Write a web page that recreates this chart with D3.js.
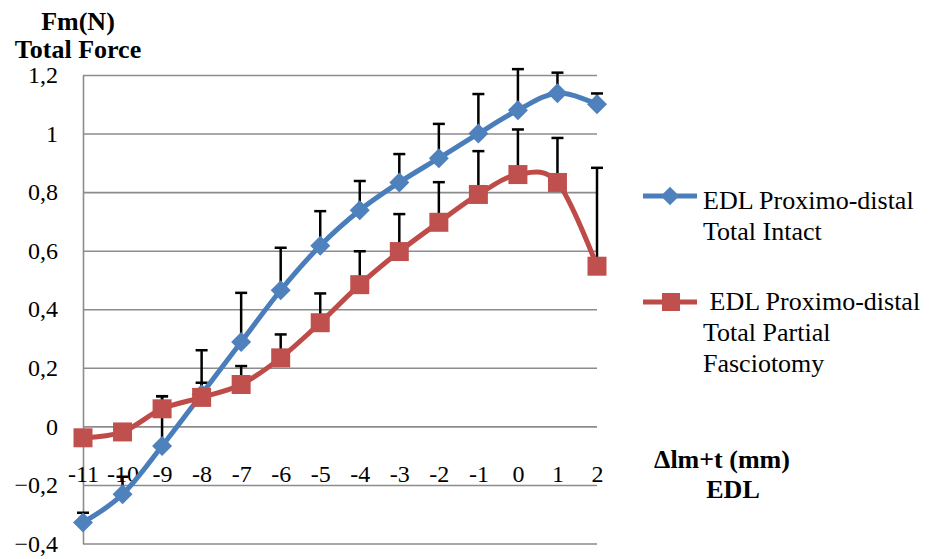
<!DOCTYPE html>
<html><head><meta charset="utf-8">
<script src="https://cdn.jsdelivr.net/npm/d3@7/dist/d3.min.js"></script>
<style>
html,body{margin:0;padding:0;background:#fff;}
svg{display:block;}
svg text{font-family:"Liberation Serif","Times New Roman",Times,"DejaVu Serif",serif !important;fill:#000;}
</style></head>
<body>
<svg id="chart" width="930" height="559"></svg>
<script>
const categories = [-11,-10,-9,-8,-7,-6,-5,-4,-3,-2,-1,0,1,2];
const intactValues = [-0.328,-0.232,-0.067,0.11,0.288,0.465,0.617,0.738,0.833,0.916,1.0,1.08,1.138,1.10];
const intactErrors = [0.033,0.06,0.17,0.15,0.168,0.145,0.118,0.1,0.097,0.117,0.135,0.14,0.07,0.037];
const partialValues = [-0.039,-0.019,0.06,0.099,0.143,0.234,0.354,0.484,0.597,0.697,0.792,0.86,0.833,0.547];
const partialErrors = [0.02,0.02,0.043,0.05,0.063,0.08,0.10,0.114,0.128,0.137,0.148,0.154,0.152,0.336];
const yTicks = [-0.4,-0.2,0,0.2,0.4,0.6,0.8,1.0,1.2];
const seriesNames = [["EDL Proximo-distal","Total Intact"],["\u00a0EDL Proximo-distal","Total Partial","Fasciotomy"]];
const yTitle = ["Fm(N)","Total Force"];
const xTitle = ["\u0394lm+t (mm)","EDL"];

const svg = d3.select("#chart");
const x = d3.scalePoint().domain(categories).range([83,597]);
const y = d3.scaleLinear().domain([-0.4,1.2]).range([543.5,75]);
const loc = d3.formatLocale({decimal:",",thousands:".",grouping:[3],currency:["",""]});
const fmt = v => Math.abs(v) < 1e-9 ? "0" : loc.format("~g")(+v.toFixed(1));

// gridlines
const grid = svg.append("g").call(d3.axisLeft(y).tickValues(yTicks).tickSize(-(597-83)).tickFormat(""))
  .attr("transform","translate(83,0)");
grid.select(".domain").remove();
grid.selectAll("line").attr("stroke","#8c8c8c").attr("stroke-width",1.6);

// left axis
const yAxis = svg.append("g").attr("transform","translate(83,0)")
  .call(d3.axisLeft(y).tickValues(yTicks).tickSize(0).tickPadding(25).tickFormat(fmt));
yAxis.attr("font-family",null);
yAxis.select(".domain").attr("stroke","#8c8c8c").attr("stroke-width",1.6);
yAxis.selectAll("text").attr("font-size",24).attr("dy","0.32em");

// x labels
const xAxis = svg.append("g").attr("transform","translate(0,427)")
  .call(d3.axisBottom(x).tickSize(0).tickPadding(0));
xAxis.attr("font-family",null);
xAxis.select(".domain").remove();
xAxis.selectAll("text").attr("font-size",24).attr("dy",0).attr("y",55);

// titles
const tt = svg.append("g").attr("font-weight","bold").attr("font-size",26).attr("text-anchor","middle");
tt.append("text").attr("x",78).attr("y",30).text(yTitle[0]);
tt.append("text").attr("x",78).attr("y",58).text(yTitle[1]);
tt.append("text").attr("x",722).attr("y",468).text(xTitle[0]);
tt.append("text").attr("x",733).attr("y",498).text(xTitle[1]);

const line = d3.line().x((d,i)=>x(categories[i])).y(d=>y(d)).curve(d3.curveCardinal.tension(0));

function errBars(vals, errs){
  const g = svg.append("g").attr("stroke","#000").attr("stroke-width",2.5);
  vals.forEach((v,i)=>{
    const cx = x(categories[i]);
    g.append("line").attr("x1",cx).attr("x2",cx).attr("y1",y(v)).attr("y2",y(v+errs[i]));
    g.append("line").attr("x1",cx-6).attr("x2",cx+6).attr("y1",y(v+errs[i])).attr("y2",y(v+errs[i]));
  });
}
errBars(intactValues,intactErrors);
errBars(partialValues,partialErrors);

const blue = "#4A7EBB", red = "#BE4B48";
svg.append("path").datum(intactValues).attr("d",line).attr("fill","none").attr("stroke",blue).attr("stroke-width",5).attr("stroke-linejoin","round");
svg.append("g").selectAll("path").data(intactValues).join("path")
  .attr("d",d3.symbol().type(d3.symbolSquare).size(200))
  .attr("transform",(d,i)=>`translate(${x(categories[i])},${y(d)}) rotate(45)`)
  .attr("fill","#4F81BD");

svg.append("path").datum(partialValues).attr("d",line).attr("fill","none").attr("stroke",red).attr("stroke-width",5).attr("stroke-linejoin","round");
svg.append("g").selectAll("path").data(partialValues).join("path")
  .attr("d",d3.symbol().type(d3.symbolSquare).size(361))
  .attr("transform",(d,i)=>`translate(${x(categories[i])},${y(d)})`)
  .attr("fill","#C0504D");

// legend
const lg = svg.append("g").attr("font-size",26);
lg.append("line").attr("x1",643).attr("x2",697).attr("y1",196).attr("y2",196).attr("stroke",blue).attr("stroke-width",5);
lg.append("path").attr("d",d3.symbol().type(d3.symbolSquare).size(170)).attr("transform","translate(670,196) rotate(45)").attr("fill","#4F81BD");
lg.append("line").attr("x1",643).attr("x2",697).attr("y1",302).attr("y2",302).attr("stroke",red).attr("stroke-width",5);
lg.append("path").attr("d",d3.symbol().type(d3.symbolSquare).size(324)).attr("transform","translate(671,302)").attr("fill","#C0504D");
const t1 = lg.append("text").attr("x",703).attr("y",209);
seriesNames[0].forEach((s,i)=>t1.append("tspan").attr("x",703).attr("y",209+31*i).text(s));
const t2 = lg.append("text");
seriesNames[1].forEach((s,i)=>t2.append("tspan").attr("x",703).attr("y",310+31*i).text(s));
</script>
</body></html>
